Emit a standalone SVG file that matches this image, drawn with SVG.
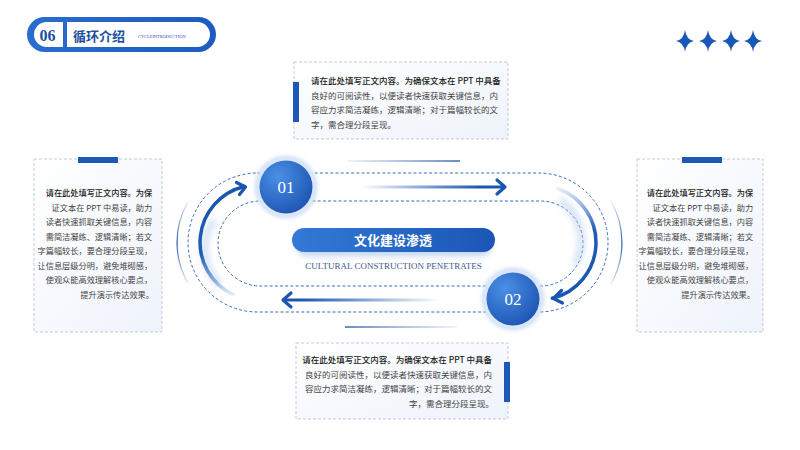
<svg xmlns="http://www.w3.org/2000/svg" width="800" height="450" viewBox="0 0 800 450">
<defs>
<style>
.box{fill:url(#boxFill);stroke:#c3cad6;stroke-width:1;stroke-dasharray:3 2}
.bar{fill:#1c58b5}
.body{font-family:"Noto Sans CJK SC","Liberation Serif",sans-serif;fill:#444;}
.b1{font-weight:500;fill:#1a1a1a}
.dash{fill:none;stroke:#3a6cb8;stroke-width:1;stroke-dasharray:3 2.2}
.num{font-family:"Liberation Serif",serif;font-size:17px;fill:#fff;text-anchor:middle}
.chev{fill:none;stroke:#1a55b0;stroke-width:3.2;stroke-linecap:round;stroke-linejoin:round}
</style>
<linearGradient id="boxFill" x1="0" y1="0" x2="1" y2="1"><stop offset="0" stop-color="#ffffff"/><stop offset="1" stop-color="#eef3fb"/></linearGradient>
<linearGradient id="hdr" x1="0" y1="0" x2="1" y2="0"><stop offset="0" stop-color="#2a6cd0"/><stop offset="1" stop-color="#1d5bc0"/></linearGradient>
<linearGradient id="pill" x1="0" y1="0" x2="1" y2="0"><stop offset="0" stop-color="#3479d6"/><stop offset="1" stop-color="#1b56b6"/></linearGradient>
<radialGradient id="ball" cx="0.35" cy="0.3" r="0.8"><stop offset="0" stop-color="#4b8fe6"/><stop offset="1" stop-color="#1a52b0"/></radialGradient>
<linearGradient id="arrR" gradientUnits="userSpaceOnUse" x1="360" y1="0" x2="480" y2="0"><stop offset="0" stop-color="#1a55b0" stop-opacity="0"/><stop offset="1" stop-color="#1a55b0"/></linearGradient>
<linearGradient id="arrL" gradientUnits="userSpaceOnUse" x1="300" y1="0" x2="440" y2="0"><stop offset="0" stop-color="#1a55b0"/><stop offset="1" stop-color="#1a55b0" stop-opacity="0"/></linearGradient>
<linearGradient id="thinT" gradientUnits="userSpaceOnUse" x1="348" y1="0" x2="460" y2="0"><stop offset="0" stop-color="#3a66b0" stop-opacity="0.1"/><stop offset="1" stop-color="#3a66b0"/></linearGradient>
<linearGradient id="thinB" gradientUnits="userSpaceOnUse" x1="345" y1="0" x2="457" y2="0"><stop offset="0" stop-color="#3a66b0"/><stop offset="1" stop-color="#3a66b0" stop-opacity="0.1"/></linearGradient>
<linearGradient id="arcL" gradientUnits="userSpaceOnUse" x1="0" y1="190" x2="0" y2="298"><stop offset="0" stop-color="#1a55b0"/><stop offset="0.6" stop-color="#1f5cb8"/><stop offset="1" stop-color="#1f5cb8" stop-opacity="0.05"/></linearGradient>
<linearGradient id="arcR" gradientUnits="userSpaceOnUse" x1="0" y1="186" x2="0" y2="296"><stop offset="0" stop-color="#1f5cb8" stop-opacity="0.05"/><stop offset="0.4" stop-color="#1f5cb8"/><stop offset="1" stop-color="#1a55b0"/></linearGradient>
<linearGradient id="thinArc" gradientUnits="userSpaceOnUse" x1="0" y1="196" x2="0" y2="290"><stop offset="0" stop-color="#2a5fb0" stop-opacity="0"/><stop offset="0.5" stop-color="#2a5fb0"/><stop offset="1" stop-color="#2a5fb0" stop-opacity="0"/></linearGradient>
<filter id="blur4" x="-50%" y="-50%" width="200%" height="200%"><feGaussianBlur stdDeviation="3"/></filter>
<filter id="blur2" x="-50%" y="-50%" width="200%" height="200%"><feGaussianBlur stdDeviation="2"/></filter>
<path id="star" d="M0,-11 Q1.3,-1.3 9,0 Q1.3,1.3 0,11 Q-1.3,1.3 -9,0 Q-1.3,-1.3 0,-11 Z" fill="#1a58b8"/>
</defs>
<rect width="800" height="450" fill="#ffffff"/>

<g id="header">
<rect x="27" y="17" width="189" height="35" rx="17.5" fill="url(#hdr)"/>
<rect x="34" y="22" width="29" height="25" rx="12.5" fill="#fff"/>
<rect x="50" y="22" width="13" height="25" fill="#fff"/>
<rect x="67" y="22" width="143" height="25" rx="12.5" fill="#fff"/>
<rect x="67" y="22" width="14" height="25" fill="#fff"/>
<text x="47.5" y="41" font-family="Liberation Serif,serif" font-weight="bold" font-size="16" fill="#1d4fa0" text-anchor="middle">06</text>
<text x="73" y="40.5" font-family="Noto Sans CJK SC,sans-serif" font-weight="bold" font-size="13" fill="#1d4fa0">循环介绍</text>
<text x="138" y="37.5" font-family="Liberation Serif,serif" font-size="4.4" fill="#1d4fa0">CYCLEINTRODUCTION</text>
</g>

<g id="stars">
<use href="#star" x="685" y="41"/>
<use href="#star" x="708" y="41"/>
<use href="#star" x="731" y="41"/>
<use href="#star" x="753" y="41"/>
</g>

<g id="connectors">
<path class="dash" d="M257.5,173 H538.5 A69.5,69.5 0 0 1 538.5,312 H257.5 A69.5,69.5 0 0 1 257.5,173 Z"/>
<path class="dash" d="M260.5,201 H540.5 A42.5,42.5 0 0 1 540.5,286 H260.5 A42.5,42.5 0 0 1 260.5,201 Z"/>
<path d="M187.8,202.3 A80.5,80.5 0 0 0 187.8,282.7" fill="none" stroke="url(#thinArc)" stroke-width="1.2"/>
<path d="M610.8,200.8 A83.5,83.5 0 0 1 610.8,284.2" fill="none" stroke="url(#thinArc)" stroke-width="1.2"/>
<path d="M220,285 A50,50 0 0 1 214,220" fill="none" stroke="#b8cdee" stroke-width="7" opacity="0.6" filter="url(#blur4)"/>
<path d="M575,265 A50,50 0 0 0 560,200" fill="none" stroke="#b8cdee" stroke-width="7" opacity="0.6" filter="url(#blur4)"/>
<path d="M233.2,294.6 A57.5,57.5 0 0 1 244.6,186.5" fill="none" stroke="url(#arcL)" stroke-width="3.5" stroke-linecap="round"/>
<path class="chev" d="M236.5,182.5 L245.5,187 L239.5,194.5"/>
<path d="M558.2,188.5 A57.5,57.5 0 0 1 552.4,298.3" fill="none" stroke="url(#arcR)" stroke-width="3.5" stroke-linecap="round"/>
<path class="chev" d="M561.5,290.5 L553.5,298.5 L562.5,303"/>
<line x1="360" y1="187" x2="503" y2="187" stroke="url(#arrR)" stroke-width="3.2"/>
<path class="chev" d="M497,180 L505,187 L497,194"/>
<line x1="284" y1="300" x2="440" y2="300" stroke="url(#arrL)" stroke-width="3.2"/>
<path class="chev" d="M291,293 L283,300 L291,307"/>
<line x1="348" y1="161" x2="460" y2="161" stroke="url(#thinT)" stroke-width="1.5"/>
<line x1="345" y1="327" x2="457" y2="327" stroke="url(#thinB)" stroke-width="1.5"/>
</g>

<g id="node-01">
<circle cx="286" cy="187" r="31" fill="#c9dcf6" filter="url(#blur2)"/>
<circle cx="286" cy="187" r="30" fill="#dbe7f8"/>
<circle cx="286" cy="187" r="26.5" fill="url(#ball)"/>
<text class="num" x="286" y="193">01</text>
</g>

<g id="node-02">
<circle cx="513" cy="299" r="31" fill="#c9dcf6" filter="url(#blur2)"/>
<circle cx="513" cy="299" r="30" fill="#dbe7f8"/>
<circle cx="513" cy="299" r="26.5" fill="url(#ball)"/>
<text class="num" x="513" y="305">02</text>
</g>

<g id="center-title">
<rect x="296" y="233" width="196" height="23" rx="11.5" fill="#8fb0e6" opacity="0.55" filter="url(#blur4)"/>
<rect x="292" y="228" width="203" height="24" rx="12" fill="url(#pill)"/>
<text x="393" y="245" font-family="Noto Sans CJK SC,sans-serif" font-weight="bold" font-size="13" fill="#fff" text-anchor="middle">文化建设渗透</text>
<text x="393.5" y="269" font-family="Liberation Serif,serif" font-size="9" fill="#3a5a8c" text-anchor="middle">CULTURAL CONSTRUCTION PENETRATES</text>
</g>

<g id="box-top">
<rect class="box" x="294" y="62" width="214" height="77"/>
<rect class="bar" x="293" y="82" width="6" height="40"/>
<text class="body" font-size="8.5">
<tspan class="b1" x="311" y="84">请在此处填写正文内容。为确保文本在 PPT 中具备</tspan>
<tspan x="311" y="98.5">良好的可阅读性，以便读者快速获取关键信息，内</tspan>
<tspan x="311" y="113">容应力求简洁凝练，逻辑清晰；对于篇幅较长的文</tspan>
<tspan x="311" y="127.5">字，需合理分段呈现。</tspan>
</text>
</g>

<g id="box-bottom">
<rect class="box" x="296" y="343" width="212" height="76"/>
<rect class="bar" x="504" y="362" width="6" height="40"/>
<text class="body" font-size="8.5" text-anchor="end">
<tspan class="b1" x="494" y="363">请在此处填写正文内容。为确保文本在 PPT 中具备</tspan>
<tspan x="494" y="377.5">良好的可阅读性，以便读者快速获取关键信息，内</tspan>
<tspan x="494" y="392">容应力求简洁凝练，逻辑清晰；对于篇幅较长的文</tspan>
<tspan x="494" y="406.5">字，需合理分段呈现。</tspan>
</text>
</g>

<g id="box-left">
<rect class="box" x="34" y="159" width="128" height="173"/>
<rect class="bar" x="78" y="157" width="40" height="6"/>
<text class="body" font-size="8.2" text-anchor="end">
<tspan class="b1" x="154" y="196">请在此处填写正文内容。为保</tspan>
<tspan x="154" y="210.5">证文本在 PPT 中易读，助力</tspan>
<tspan x="154" y="225">读者快速抓取关键信息，内容</tspan>
<tspan x="154" y="239.5">需简洁凝练、逻辑清晰；若文</tspan>
<tspan x="154" y="254">字篇幅较长，要合理分段呈现，</tspan>
<tspan x="154" y="268.5">让信息层级分明，避免堆砌感，</tspan>
<tspan x="154" y="283">使观众能高效理解核心要点，</tspan>
<tspan x="154" y="297.5">提升演示传达效果。</tspan>
</text>
</g>

<g id="box-right">
<rect class="box" x="637" y="159" width="126" height="173"/>
<rect class="bar" x="682" y="157" width="40" height="6"/>
<text class="body" font-size="8.2" text-anchor="end">
<tspan class="b1" x="755" y="196">请在此处填写正文内容。为保</tspan>
<tspan x="755" y="210.5">证文本在 PPT 中易读，助力</tspan>
<tspan x="755" y="225">读者快速抓取关键信息，内容</tspan>
<tspan x="755" y="239.5">需简洁凝练、逻辑清晰；若文</tspan>
<tspan x="755" y="254">字篇幅较长，要合理分段呈现，</tspan>
<tspan x="755" y="268.5">让信息层级分明，避免堆砌感，</tspan>
<tspan x="755" y="283">使观众能高效理解核心要点，</tspan>
<tspan x="755" y="297.5">提升演示传达效果。</tspan>
</text>
</g>
</svg>
